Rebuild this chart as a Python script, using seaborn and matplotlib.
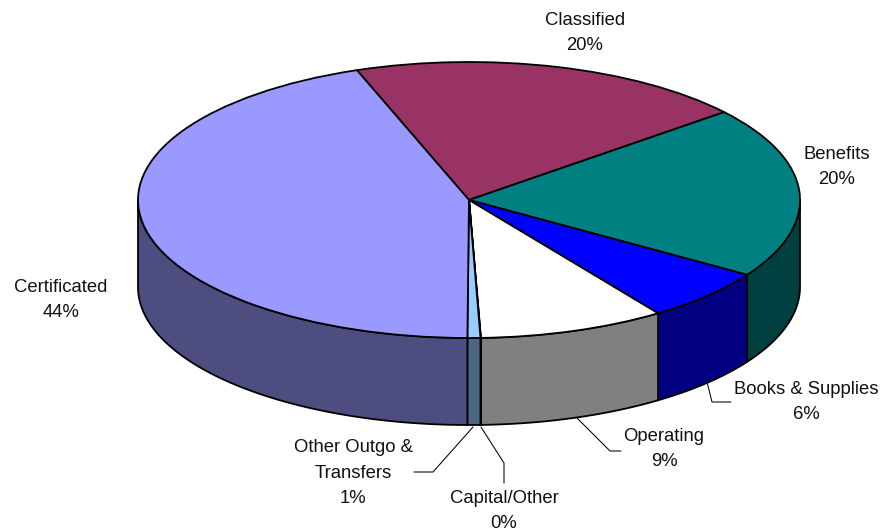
import numpy as np
import matplotlib
matplotlib.use("Agg")
import matplotlib.pyplot as plt
import seaborn as sns

categories = ["Classified", "Benefits", "Books & Supplies", "Operating",
              "Capital/Other", "Other Outgo &\nTransfers", "Certificated"]
shares = [19.5, 20.1, 6.2, 9.1, 0.02, 0.63, 44.4]
share_labels = ["20%", "20%", "6%", "9%", "0%", "1%", "44%"]
top_colors = ["#993366", "#008080", "#0000FF", "#FFFFFF", "#3366FF", "#99CCFF", "#9999FF"]
side_colors = ["#4D1A33", "#004040", "#000080", "#808080", "#1A3380", "#4D6680", "#4D4D80"]

W, H = 880, 532
CX, CY, RX, RY, DEPTH = 469.0, 200.0, 331.0, 138.0, 87.0
LW = 1.3

sns.set_theme(style="white")
plt.rcParams["font.family"] = ["Liberation Sans", "DejaVu Sans"]

fig = plt.figure(figsize=(W / 100, H / 100), dpi=100)
ax = fig.add_axes([0, 0, 1, 1])
wedges, _ = ax.pie(shares, colors=top_colors, startangle=109.8, counterclock=False,
                   radius=1.0, wedgeprops=dict(edgecolor="black", linewidth=LW, zorder=3))
ax.set_aspect("auto")
ax.set_xlim(-CX / RX, (W - CX) / RX)
ax.set_ylim(-(H - CY) / RY, CY / RY)
ax.axis("off")
d = DEPTH / RY

def px(x, y):
    return (x - CX) / RX, (CY - y) / RY

# Visible rim of the cylinder, taken from the pie's own wedge angles
for w, col in zip(wedges, side_colors):
    a, b = max(w.theta1, -180.0), min(w.theta2, 0.0)
    if b <= a:
        continue
    t = np.radians(np.linspace(a, b, 120))
    xs, ys = np.cos(t), np.sin(t)
    ax.fill(np.r_[xs, xs[::-1]], np.r_[ys, ys[::-1] - d], facecolor=col,
            edgecolor="black", linewidth=LW, zorder=2, joinstyle="round")

# Label text, centred at the given pixel position
label_pos = {
    "Classified": (585, 33), "Benefits": (837, 167), "Books & Supplies": (806, 402),
    "Operating": (664, 449), "Capital/Other": (504, 511),
    "Other Outgo &\nTransfers": (353, 473), "Certificated": (61, 300),
}
for name, pct in zip(categories, share_labels):
    x, y = px(*label_pos[name])
    ax.text(x, y, f"{name}\n{pct}", ha="center", va="center", fontsize=13.3,
            color="#111111", linespacing=1.68, zorder=5)

# Leader lines
leaders = [
    [(707, 382), (712, 402), (731, 402)],
    [(577, 418), (610, 451), (621, 451)],
    [(481, 427), (504, 463), (504, 483)],
    [(473, 427), (433, 472), (414, 472)],
]
for pts in leaders:
    q = [px(*p) for p in pts]
    ax.plot(*zip(*q), color="black", lw=0.75, zorder=1, solid_joinstyle="miter")

fig.savefig("out.png", dpi=100, facecolor="white")
